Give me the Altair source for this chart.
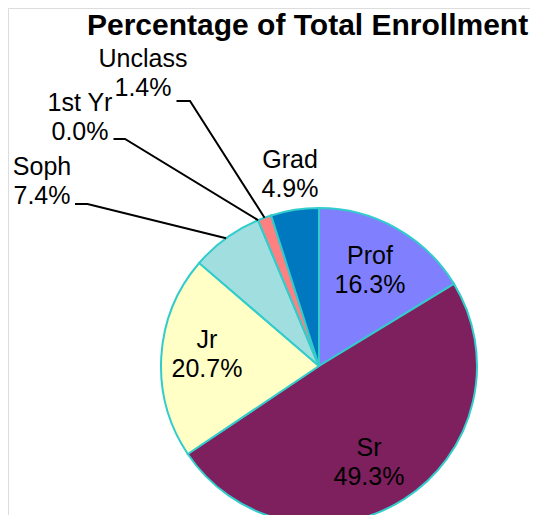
import math
import altair as alt
import pandas as pd

# ---- data -------------------------------------------------------------
categories = ["Prof", "Sr", "Jr", "Soph", "1st Yr", "Unclass", "Grad"]
percents = [16.3, 49.3, 20.7, 7.4, 0.0, 1.4, 4.9]
title_text = "Percentage of Total Enrollment"

# ---- styles -----------------------------------------------------------
colors = ["#8080FF", "#7E1F5E", "#FFFFC6", "#A0DEDF", "#660066", "#FF8080", "#0078C0"]
EDGE = "#33CCCC"
FONT = "Liberation Sans"
LINE_H = 29

# ---- layout (pixels, chart space) --------------------------------------
W, H = 522, 507
CX, CY, R = 311, 358, 158
TITLE_X, TITLE_Y = 79, 27
# label block centre, relative to pie centre
label_offsets = {
    "Prof": (51, -96),
    "Sr": (50, 96),
    "Jr": (-112, -12),
    "Grad": (-29, -192),
    "Soph": (-277, -185),
    "1st Yr": (-239, -249),
    "Unclass": (-176, -293),
}
# leader line: start of horizontal tick and elbow, relative to pie centre
leaders = {
    "Soph": ((-244, -162), (-231.5, -162)),
    "1st Yr": ((-205.5, -227), (-194, -227)),
    "Unclass": ((-142.5, -265), (-129, -265)),
}

# ---- tables -------------------------------------------------------------
df = pd.DataFrame({"category": categories, "pct": percents, "order": list(range(len(categories)))})

labels = pd.DataFrame({
    "category": categories,
    "label": [f"{c}\n{p:.1f}%" for c, p in zip(categories, percents)],
    "lx": [CX + label_offsets[c][0] for c in categories],
    # first line's middle sits half a line above the block centre
    "ly": [CY + label_offsets[c][1] - LINE_H / 2 for c in categories],
})

total = sum(percents)
rows = []
cum = 0.0
for c, p in zip(categories, percents):
    mid = (cum + p / 2) / total * 2 * math.pi
    cum += p
    if c in leaders:
        (sx, sy), (ex, ey) = leaders[c]
        px = CX + R * math.sin(mid)
        py = CY - R * math.cos(mid)
        rows += [
            {"category": c, "seq": 0, "x": CX + sx, "y": CY + sy},
            {"category": c, "seq": 1, "x": CX + ex, "y": CY + ey},
            {"category": c, "seq": 2, "x": px, "y": py},
        ]
leader_df = pd.DataFrame(rows)

title_df = pd.DataFrame({"t": [title_text], "x": [TITLE_X], "y": [TITLE_Y]})

# ---- marks --------------------------------------------------------------
pie = alt.Chart(df).mark_arc(outerRadius=R, stroke=EDGE, strokeWidth=2).encode(
    theta=alt.Theta("pct:Q", stack=True),
    color=alt.Color("category:N", scale=alt.Scale(domain=categories, range=colors), legend=None),
    order=alt.Order("order:Q"),
    x=alt.value(CX),
    y=alt.value(CY),
)

lines = alt.Chart(leader_df).mark_line(color="black", strokeWidth=2).encode(
    x=alt.X("x:Q", scale=None, axis=None),
    y=alt.Y("y:Q", scale=None, axis=None),
    detail="category:N",
    order="seq:Q",
)

text = alt.Chart(labels).mark_text(
    font=FONT, fontSize=25, lineBreak="\n", lineHeight=LINE_H,
    align="center", baseline="middle", color="black",
).encode(
    x=alt.X("lx:Q", scale=None, axis=None),
    y=alt.Y("ly:Q", scale=None, axis=None),
    text="label:N",
)

title = alt.Chart(title_df).mark_text(
    font=FONT, fontSize=30, fontWeight="bold", color="black",
    align="left", baseline="alphabetic",
).encode(
    x=alt.X("x:Q", scale=None, axis=None),
    y=alt.Y("y:Q", scale=None, axis=None),
    text="t:N",
)

chart = alt.layer(pie, lines, text, title).properties(
    width=W,
    height=H,
    padding=0,
    autosize=alt.AutoSizeParams(type="none"),
).configure_view(strokeWidth=0, stroke="transparent").configure(background="white")

chart.save("out.html", embed_options={"renderer": "svg", "actions": False})
